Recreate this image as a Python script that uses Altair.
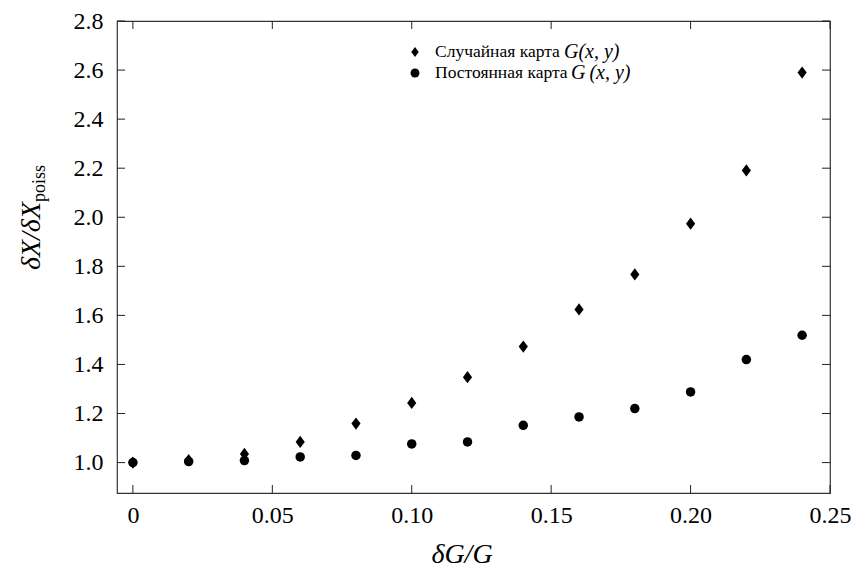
import altair as alt
import pandas as pd

# ---- data ----
dG_over_G = [0.00, 0.02, 0.04, 0.06, 0.08, 0.10, 0.12, 0.14, 0.16, 0.18, 0.20, 0.22, 0.24]
random_map = [1.000, 1.010, 1.035, 1.084, 1.159, 1.243, 1.348, 1.473, 1.624, 1.767, 1.974, 2.191, 2.590]
const_map = [1.000, 1.004, 1.008, 1.023, 1.029, 1.076, 1.084, 1.152, 1.186, 1.220, 1.288, 1.420, 1.519]

x_ticks = [0.0, 0.05, 0.10, 0.15, 0.20, 0.25]
y_ticks = [1.0, 1.2, 1.4, 1.6, 1.8, 2.0, 2.2, 2.4, 2.6, 2.8]

legend_labels = ["Случайная карта", "Постоянная карта"]
legend_italic = ["G(x, y)", "G\u2009(x, y)"]

FONT = "Liberation Serif"
W, H = 713, 472
TICK = 8
DIAMOND = "M0,-1L0.75,0L0,1L-0.75,0Z"

df_r = pd.DataFrame({"x": dG_over_G, "y": random_map})
df_c = pd.DataFrame({"x": dG_over_G, "y": const_map})
df_xt = pd.DataFrame({"x": x_ticks})
df_yt = pd.DataFrame({"y": y_ticks})

xscale = alt.Scale(domain=[-0.0057, 0.25], nice=False, zero=False)
yscale = alt.Scale(domain=[0.876, 2.8], nice=False, zero=False)

x_axis = alt.Axis(values=x_ticks, labelExpr="datum.value == 0 ? '0' : format(datum.value, '.2f')",
                  ticks=False, domain=False, grid=False, labelFont=FONT, labelFontSize=24,
                  labelColor="black", labelPadding=10, title=None, labelFlush=False)
y_axis = alt.Axis(values=y_ticks, format=".1f", ticks=False, domain=False, grid=False,
                  labelFont=FONT, labelFontSize=24, labelColor="black", labelPadding=14, title=None)

X = lambda f: alt.X(f, scale=xscale, axis=x_axis, title=None)
Y = lambda f: alt.Y(f, scale=yscale, axis=y_axis, title=None)

diamonds = alt.Chart(df_r).mark_point(shape=DIAMOND, filled=True, color="black", size=150, opacity=1).encode(
    x=X("x:Q"), y=Y("y:Q"))
circles = alt.Chart(df_c).mark_point(shape="circle", filled=True, color="black", size=90, opacity=1).encode(
    x=X("x:Q"), y=Y("y:Q"))

tick_style = dict(color="#222", strokeWidth=1)
bottom_ticks = alt.Chart(df_xt).mark_rule(**tick_style).encode(
    x=X("x:Q"), y=alt.value(H), y2=alt.value(H - TICK))
top_ticks = alt.Chart(df_xt).mark_rule(**tick_style).encode(
    x=X("x:Q"), y=alt.value(0), y2=alt.value(TICK))
left_ticks = alt.Chart(df_yt).mark_rule(**tick_style).encode(
    y=Y("y:Q"), x=alt.value(0), x2=alt.value(TICK))
right_ticks = alt.Chart(df_yt).mark_rule(**tick_style).encode(
    y=Y("y:Q"), x=alt.value(W), x2=alt.value(W - TICK))

# ---- legend (manual, mixed upright / italic text) ----
leg_x_sym = 298
leg_x_txt = 318
leg_y = [31, 52]
leg_it_x = [447, 454]
legend_layers = []
for i in range(2):
    shape = DIAMOND if i == 0 else "circle"
    size = 100 if i == 0 else 80
    legend_layers.append(
        alt.Chart(pd.DataFrame({"t": [legend_labels[i]]})).mark_point(
            shape=shape, filled=True, color="black", size=size, opacity=1
        ).encode(x=alt.value(leg_x_sym), y=alt.value(leg_y[i]))
    )
    legend_layers.append(
        alt.Chart(pd.DataFrame({"t": [legend_labels[i]]})).mark_text(
            font=FONT, fontSize=17.5, align="left", baseline="middle", color="black"
        ).encode(x=alt.value(leg_x_txt), y=alt.value(leg_y[i]), text="t:N")
    )
    legend_layers.append(
        alt.Chart(pd.DataFrame({"t": [legend_italic[i]]})).mark_text(
            font=FONT, fontSize=20, fontStyle="italic", align="left", baseline="middle", color="black"
        ).encode(x=alt.value(leg_it_x[i]), y=alt.value(leg_y[i]), text="t:N")
    )

# ---- axis titles ----
x_title = alt.Chart(pd.DataFrame({"t": ["δG/G"]})).mark_text(
    font=FONT, fontSize=28, fontStyle="italic", align="center", baseline="alphabetic", color="black"
).encode(x=alt.value(345), y=alt.value(542), text="t:N")
y_title_main = alt.Chart(pd.DataFrame({"t": ["δX/δX"]})).mark_text(
    font=FONT, fontSize=28, fontStyle="italic", align="right", baseline="alphabetic", angle=270, color="black"
).encode(x=alt.value(-77), y=alt.value(181), text="t:N")
y_title_sub = alt.Chart(pd.DataFrame({"t": ["poiss"]})).mark_text(
    font=FONT, fontSize=18, align="left", baseline="alphabetic", angle=270, color="black"
).encode(x=alt.value(-72), y=alt.value(181), text="t:N")

chart = alt.layer(
    diamonds, circles, bottom_ticks, top_ticks, left_ticks, right_ticks,
    *legend_layers, x_title, y_title_main, y_title_sub
).properties(
    width=W, height=H,
    padding={"left": 117, "top": 21, "right": 28, "bottom": 76},
    autosize=alt.AutoSizeParams(type="none"),
    background="white",
).configure_view(stroke="#333", strokeWidth=1.2)

chart.save("out.html", embed_options={"renderer": "svg", "actions": False})
